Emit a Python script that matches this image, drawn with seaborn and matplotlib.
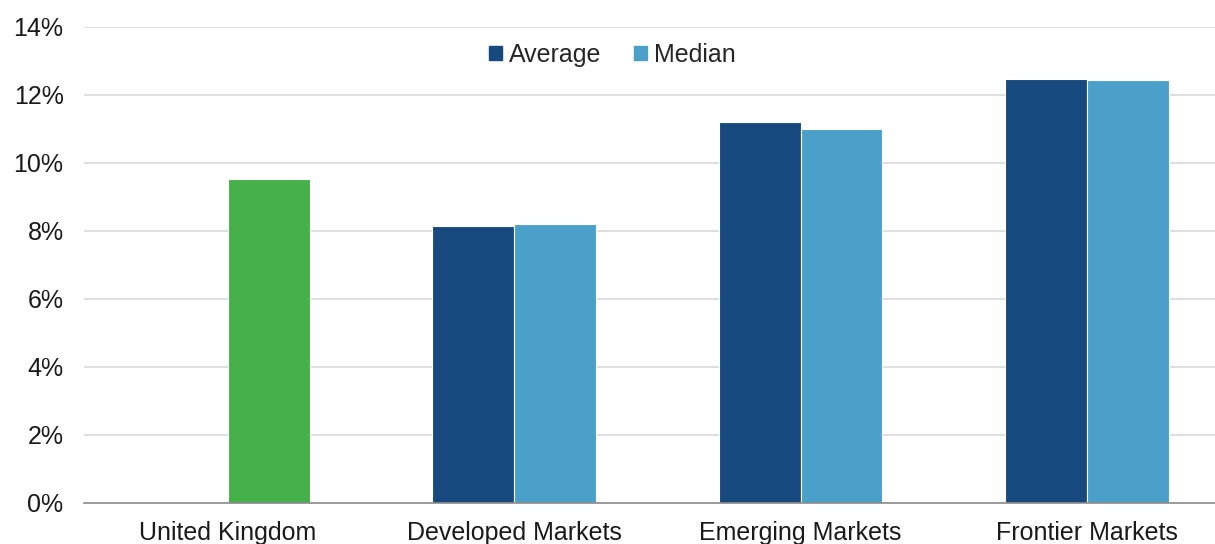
import pandas as pd
import seaborn as sns
import matplotlib.pyplot as plt
from matplotlib.ticker import PercentFormatter
import numpy as np

categories = ["United Kingdom", "Developed Markets", "Emerging Markets", "Frontier Markets"]
average = [np.nan, 8.15, 11.2, 12.46]
median = [9.53, 8.2, 11.0, 12.43]

df = pd.DataFrame({
    "category": categories * 2,
    "series": ["Average"] * 4 + ["Median"] * 4,
    "value": average + median,
})

sns.set_style("white")
plt.rcParams["font.family"] = ["Liberation Sans", "DejaVu Sans"]

fig = plt.figure(figsize=(12.15, 5.44), dpi=100)
# axes runs slightly past the right edge of the figure, like the original
ax = fig.add_axes([0.0695, 0.0754, 0.943, 0.875])

sns.barplot(data=df, x="category", y="value", hue="series", order=categories,
            hue_order=["Average", "Median"], palette=["#17497f", "#4ba0ca"],
            width=0.572, edgecolor="white", linewidth=0.8, saturation=1, ax=ax)

# UK only has one bar, shown in green
for p in ax.patches:
    cx = p.get_x() + p.get_width() / 2
    if abs(cx) < 0.45 and np.isfinite(p.get_height()) and p.get_height() > 0:
        p.set_facecolor("#46b04b")

ax.set_xlim(-0.5, 3.5)
ax.set_ylim(0, 14)
ax.set_yticks(np.arange(0, 15, 2))
ax.yaxis.set_major_formatter(PercentFormatter(decimals=0))
ax.grid(axis="y", color="#d9d9d9", linewidth=1.2)
ax.set_axisbelow(True)
for s in ["top", "right", "left"]:
    ax.spines[s].set_visible(False)
ax.spines["bottom"].set_color("#8c8c8c")
ax.spines["bottom"].set_linewidth(1.2)
ax.tick_params(axis="y", length=0, pad=15, labelsize=18, labelcolor="#1a1a1a")
ax.tick_params(axis="x", length=0, pad=13, labelsize=18, labelcolor="#1a1a1a")
ax.set_xlabel("")
ax.set_ylabel("")

handles = [plt.Rectangle((0, 0), 1, 1, color=c) for c in ["#17497f", "#4ba0ca"]]
ax.legend(handles, ["Average", "Median"], loc="center", bbox_to_anchor=(0.461, 0.941),
          ncol=2, frameon=False, fontsize=18, handlelength=0.5, handleheight=0.5,
          handletextpad=0.3, columnspacing=1.3)

fig.savefig("out.png", dpi=100)
